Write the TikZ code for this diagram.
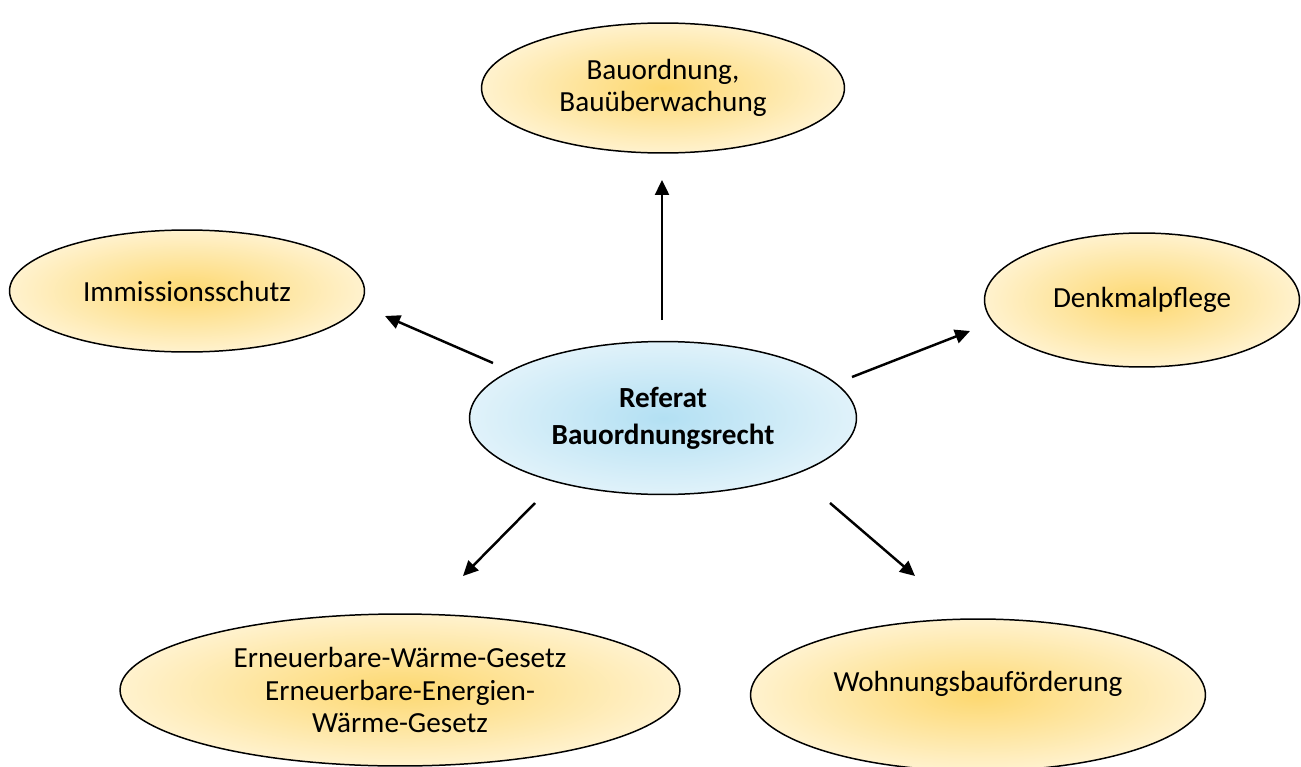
\documentclass[tikz,border=0pt]{standalone}
\usepackage{fontspec}
\setmainfont{Carlito}
\usetikzlibrary{shapes.geometric,arrows.meta}
\definecolor{goldin}{HTML}{FDD870}
\definecolor{goldout}{HTML}{FFF2CE}
\definecolor{bluein}{HTML}{B3E0F3}
\definecolor{blueout}{HTML}{E0F2FA}

\begin{document}
\begin{tikzpicture}[x=0.02cm,y=-0.02cm,
		thema/.style={ellipse,draw,line width=0.85pt,inner color=goldin,outer color=goldout,
			align=center,inner sep=0pt,font=\fontsize{16.6}{18.4}\selectfont},
		referat/.style={thema,inner color=bluein,outer color=blueout,font=\fontsize{16.6}{21}\selectfont\bfseries},
		pfeil/.style={-{Triangle[length=0.3cm,width=0.28cm]},line width=1.4pt}]
		\useasboundingbox (0,0) rectangle (1301,767);
		% Ellipsen
		\node[referat,minimum width=7.74cm,minimum height=3.06cm] (ref) at (663,418) {Referat\\Bauordnungsrecht};
		\node[thema,minimum width=7.26cm,minimum height=2.6cm] (bau) at (663,88) {Bauordnung,\\Bauüberwachung};
		\node[thema,minimum width=7.1cm,minimum height=2.44cm] (imm) at (187,291) {Immissionsschutz};
		\node[thema,minimum width=6.3cm,minimum height=2.68cm] (denk) at (1142,300) {Denkmalpflege};
		\node[thema,minimum width=11.2cm,minimum height=3.04cm] (ewg) at (400,690) {Erneuerbare-Wärme-Gesetz\\Erneuerbare-Energien-\\Wärme-Gesetz};
		\node[thema,minimum width=9.1cm,minimum height=3.04cm,text depth=0.55cm] (wbf) at (978,695) {Wohnungsbauförderung};
		% Pfeile
		\coordinate (a1) at (662,320);
		\coordinate (b1) at (662,180);
		\coordinate (a2) at (493,363);
		\coordinate (b2) at (385,316);
		\coordinate (a3) at (852,377);
		\coordinate (b3) at (970,331);
		\coordinate (a4) at (535,503);
		\coordinate (b4) at (463,576);
		\coordinate (a5) at (830,503);
		\coordinate (b5) at (915,576);
		\draw[pfeil] (a1) -- (b1);
		\draw[pfeil] (a2) -- (b2);
		\draw[pfeil] (a3) -- (b3);
		\draw[pfeil] (a4) -- (b4);
		\draw[pfeil] (a5) -- (b5);
	\end{tikzpicture}
\end{document}
